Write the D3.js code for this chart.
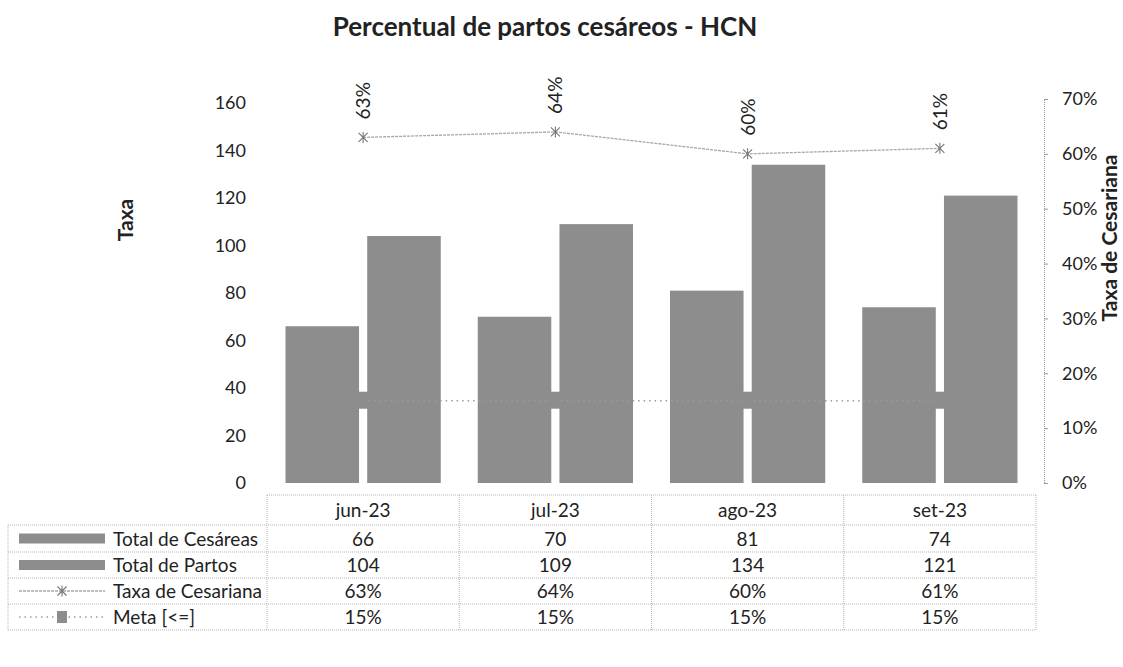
<!DOCTYPE html>
<html><head><meta charset="utf-8">
<script src="https://cdn.jsdelivr.net/npm/d3@7"></script>
<style>body{margin:0;background:#fff}svg{display:block}text{font-family:Lato,"Open Sans",sans-serif;fill:#222}</style>
</head><body><svg id="c" width="1123" height="667"></svg>
<script>
const categories = ["jun-23","jul-23","ago-23","set-23"];
const totalCesareas = [66,70,81,74];
const totalPartos = [104,109,134,121];
const taxaCesariana = [0.63,0.64,0.60,0.61];
const meta = [0.15,0.15,0.15,0.15];
const leftTicks = [0,20,40,60,80,100,120,140,160];
const rightTicks = [0,0.1,0.2,0.3,0.4,0.5,0.6,0.7];
const seriesNames = ["Total de Cesáreas","Total de Partos","Taxa de Cesariana","Meta [<=]"];

(function(){
const svg = d3.select("#c");
const pLeft = 267, pRight = 1036, pTop = 103, pBottom = 483;
const barColor = "#8d8d8d", lineColor = "#a8a8a8";
const fs = "19px";

const x = d3.scaleBand().domain(categories).range([pLeft, pRight]);
const x1 = d3.scaleBand().domain(["c","p"]).range([18.5, x.bandwidth()-18.5]).paddingInner(0.1);
const y = d3.scaleLinear().domain([0,160]).range([pBottom, pTop]);
const y2 = d3.scaleLinear().domain([0,0.7]).range([pBottom, pTop-4]);

// title
svg.append("text").attr("x",545).attr("y",36).attr("text-anchor","middle")
  .style("font-size","26px").style("font-weight","bold").text("Percentual de partos cesáreos - HCN");

// left axis (labels only)
const ly = svg.append("g").attr("transform",`translate(${pLeft},0)`)
  .call(d3.axisLeft(y).tickValues(leftTicks).tickSize(0).tickPadding(21));
ly.select(".domain").remove();
ly.selectAll("text").style("font-size","18px").style("font-family","Lato,sans-serif").attr("fill","#222");
svg.append("text").attr("transform","translate(133,220) rotate(-90)").attr("text-anchor","middle")
  .style("font-size","21px").style("font-weight","bold").text("Taxa");

// right axis
const ry = svg.append("g").attr("transform","translate(1044,0)")
  .call(d3.axisRight(y2).tickValues(rightTicks).tickSize(4).tickPadding(14).tickFormat(d3.format(".0%")));
ry.select(".domain").attr("stroke","#999").attr("stroke-dasharray","1,1");
ry.selectAll(".tick line").attr("stroke","#999");
ry.selectAll("text").style("font-size","18px").style("font-family","Lato,sans-serif").attr("fill","#222");
svg.append("text").attr("transform","translate(1117,238) rotate(-90)").attr("text-anchor","middle")
  .style("font-size","21px").style("font-weight","bold").text("Taxa de Cesariana");

// bars
const g = svg.append("g");
categories.forEach((c,i)=>{
  [["c",totalCesareas[i]],["p",totalPartos[i]]].forEach(([k,v])=>{
    g.append("rect").attr("x",x(c)+x1(k)).attr("width",x1.bandwidth())
      .attr("y",y(v)).attr("height",y(0)-y(v)).attr("fill",barColor);
  });
});

// meta line
const cx = c => x(c)+x.bandwidth()/2;
svg.append("path").datum(meta).attr("fill","none").attr("stroke","#9a9a9a").attr("stroke-width",1.5)
  .attr("stroke-dasharray","1.5,4")
  .attr("d", d3.line().x((d,i)=>cx(categories[i])).y(d=>y2(d)));
svg.selectAll(".metam").data(meta).join("rect").attr("class","metam")
  .attr("x",(d,i)=>cx(categories[i])-5).attr("y",d=>y2(d)-9).attr("width",10).attr("height",17)
  .attr("fill",barColor);

// taxa line
svg.append("path").datum(taxaCesariana).attr("fill","none").attr("stroke",lineColor).attr("stroke-width",1.3)
  .attr("stroke-dasharray","3,1")
  .attr("d", d3.line().x((d,i)=>cx(categories[i])).y(d=>y2(d)));
function star(sel, px, py, s){
  sel.append("path").attr("d",`M${px-s},${py-s}L${px+s},${py+s}M${px-s},${py+s}L${px+s},${py-s}M${px},${py-s-1}L${px},${py+s+1}`)
    .attr("stroke","#777").attr("stroke-width",1.1).attr("fill","none");
}
taxaCesariana.forEach((d,i)=>star(svg, cx(categories[i]), y2(d), 4.5));
svg.selectAll(".lbl").data(taxaCesariana).join("text").attr("class","lbl")
  .attr("transform",(d,i)=>`translate(${cx(categories[i])+7},${y2(d)-18}) rotate(-90)`)
  .style("font-size","19px").text(d=>d3.format(".0%")(d));

// data table
const rowLines = [495,525,552,578,604,630];
const tl = svg.append("g").attr("stroke","#b5b5b5").attr("stroke-dasharray","1,1").attr("stroke-width",1);
tl.append("line").attr("x1",pLeft).attr("x2",pRight).attr("y1",rowLines[0]).attr("y2",rowLines[0]);
rowLines.slice(1).forEach(yy=>tl.append("line").attr("x1",8).attr("x2",pRight).attr("y1",yy).attr("y2",yy));
tl.append("line").attr("x1",8).attr("x2",8).attr("y1",rowLines[1]).attr("y2",rowLines[5]);
categories.forEach(c=>tl.append("line").attr("x1",x(c)).attr("x2",x(c)).attr("y1",rowLines[0]).attr("y2",rowLines[5]));
tl.append("line").attr("x1",pRight).attr("x2",pRight).attr("y1",rowLines[0]).attr("y2",rowLines[5]);

const rows = [totalCesareas.map(String), totalPartos.map(String),
  taxaCesariana.map(d3.format(".0%")), meta.map(d3.format(".0%"))];
categories.forEach(c=>svg.append("text").attr("x",cx(c)).attr("y",(rowLines[0]+rowLines[1])/2+7)
  .attr("text-anchor","middle").style("font-size",fs).text(c));
rows.forEach((r,ri)=>{
  const yc = (rowLines[ri+1]+rowLines[ri+2])/2;
  r.forEach((v,ci)=>svg.append("text").attr("x",cx(categories[ci])).attr("y",yc+7)
    .attr("text-anchor","middle").style("font-size",fs).text(v));
  svg.append("text").attr("x",113).attr("y",yc+7).style("font-size",fs).text(seriesNames[ri]);
  if(ri<2){
    svg.append("rect").attr("x",19).attr("y",yc-5).attr("width",86).attr("height",10).attr("fill",barColor);
  } else if(ri===2){
    svg.append("line").attr("x1",19).attr("x2",105).attr("y1",yc).attr("y2",yc)
      .attr("stroke",lineColor).attr("stroke-width",1.3).attr("stroke-dasharray","3,1");
    star(svg,62,yc,4.5);
  } else {
    svg.append("line").attr("x1",19).attr("x2",105).attr("y1",yc).attr("y2",yc)
      .attr("stroke","#9a9a9a").attr("stroke-width",1.5).attr("stroke-dasharray","1.5,4");
    svg.append("rect").attr("x",57).attr("y",yc-6).attr("width",10).attr("height",12).attr("fill",barColor);
  }
});
})();
</script></body></html>
